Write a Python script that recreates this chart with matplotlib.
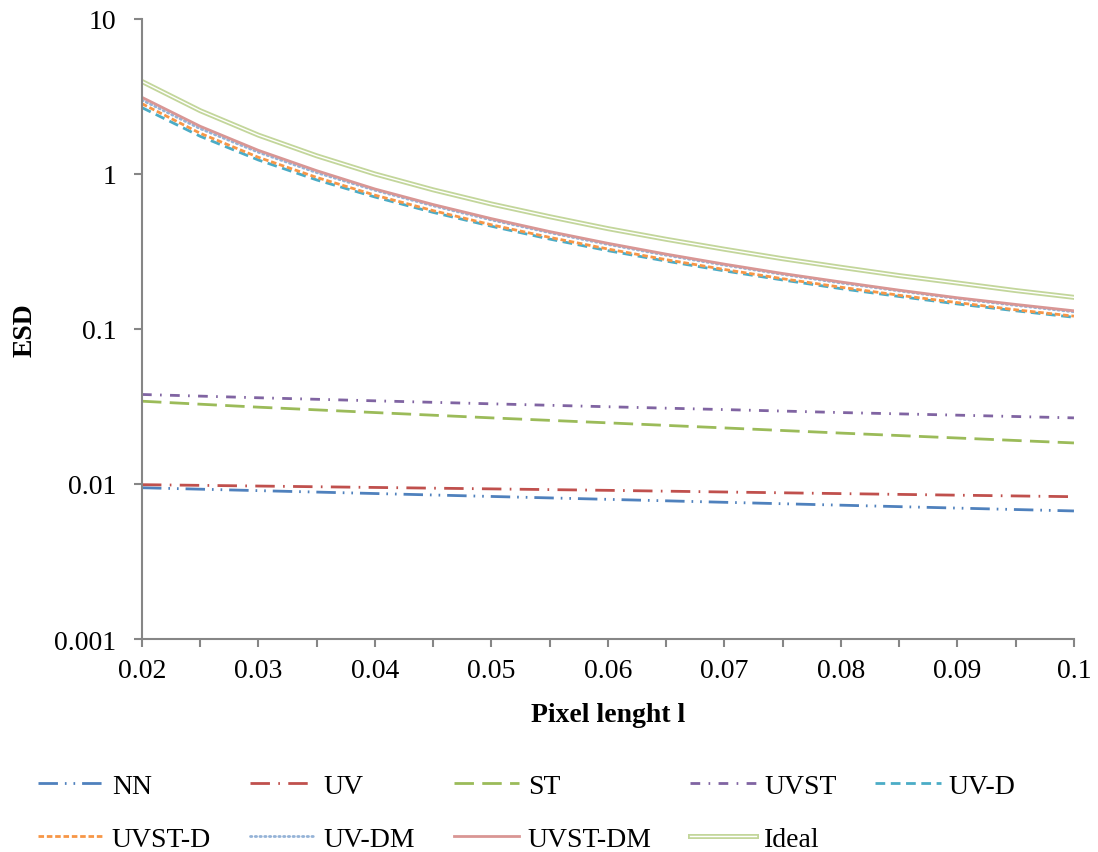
import numpy as np
import matplotlib.pyplot as plt
import matplotlib.patheffects as pe

# Donnees
x_haut = [0.02, 0.025, 0.03, 0.035, 0.04, 0.045, 0.05, 0.055, 0.06,
          0.065, 0.07, 0.075, 0.08, 0.085, 0.09, 0.095, 0.1]
ideal = [3.95, 2.56, 1.78, 1.31, 1.0, 0.79, 0.64, 0.53, 0.444,
         0.379, 0.327, 0.284, 0.25, 0.221, 0.198, 0.177, 0.16]
uvst_dm = [3.12, 2.03, 1.42, 1.05, 0.80, 0.635, 0.515, 0.425, 0.357,
           0.304, 0.262, 0.228, 0.201, 0.178, 0.159, 0.144, 0.131]
uv_dm = [3.0, 1.96, 1.38, 1.02, 0.785, 0.623, 0.505, 0.418, 0.351,
         0.299, 0.258, 0.225, 0.198, 0.176, 0.157, 0.142, 0.129]
uvst_d = [2.84, 1.83, 1.28, 0.95, 0.73, 0.58, 0.47, 0.39, 0.328,
          0.28, 0.242, 0.211, 0.186, 0.165, 0.148, 0.133, 0.121]
uv_d = [2.68, 1.75, 1.23, 0.915, 0.71, 0.565, 0.46, 0.38, 0.32,
        0.274, 0.237, 0.207, 0.182, 0.162, 0.145, 0.131, 0.119]

x_bas = [0.02, 0.03, 0.04, 0.05, 0.06, 0.07, 0.08, 0.09, 0.1]
uvst = [0.0378, 0.0360, 0.0344, 0.0329, 0.0315, 0.0302, 0.0289, 0.0278, 0.0267]
st = [0.0342, 0.0313, 0.0289, 0.0267, 0.0248, 0.0230, 0.0213, 0.0198, 0.0184]
uv = [0.0099, 0.0097, 0.0095, 0.0093, 0.0091, 0.00888, 0.00867, 0.00847, 0.00828]
nn = [0.00946, 0.00906, 0.00868, 0.00831, 0.00796, 0.00762, 0.0073, 0.00699, 0.0067]

plt.rcParams['font.family'] = ['Liberation Serif', 'DejaVu Serif']

fig = plt.figure(figsize=(10.98, 8.53), dpi=100)
ax = fig.add_axes([0.1293, 0.2497, 0.8488, 0.7269])

lw = 2.0
l_nn, = ax.plot(x_bas, nn, color='#4F81BD', lw=lw, dashes=(7, 2.5, 0.6, 2.5, 0.6, 2.5), label='NN')
l_uv, = ax.plot(x_bas, uv, color='#C0504D', lw=lw, dashes=(7, 3, 0.6, 3), label='UV')
l_st, = ax.plot(x_bas, st, color='#9BBB59', lw=lw, dashes=(7, 3), label='ST')
l_uvst, = ax.plot(x_bas, uvst, color='#8064A2', lw=lw, dashes=(3.5, 3, 0.6, 3), label='UVST')
l_uvd, = ax.plot(x_haut, uv_d, color='#4BACC6', lw=lw, dashes=(3.5, 2), label='UV-D')
l_uvstd, = ax.plot(x_haut, uvst_d, color='#F79646', lw=lw, dashes=(2, 1), label='UVST-D')
l_uvdm, = ax.plot(x_haut, uv_dm, color='#95B3D7', lw=lw, dashes=(0.5, 1.2),
                  dash_capstyle='round', label='UV-DM')
l_uvstdm, = ax.plot(x_haut, uvst_dm, color='#D99694', lw=lw, label='UVST-DM')
l_ideal, = ax.plot(x_haut, ideal, color='white', lw=1.0, label='Ideal',
                   path_effects=[pe.Stroke(linewidth=3.6, foreground='#C3D69B'), pe.Normal()])

ax.set_yscale('log')
ax.set_ylim(0.001, 10)
ax.set_xlim(0.02, 0.1)
ax.set_yticks([0.001, 0.01, 0.1, 1, 10])
ax.set_yticklabels(['0.001', '0.01', '0.1', '1', '10'])
ax.yaxis.set_minor_locator(plt.NullLocator())
ax.set_xticks([0.02, 0.03, 0.04, 0.05, 0.06, 0.07, 0.08, 0.09, 0.1])
ax.set_xticklabels(['0.02', '0.03', '0.04', '0.05', '0.06', '0.07', '0.08', '0.09', '0.1'])
ax.set_xticks(np.arange(0.025, 0.1, 0.01), minor=True)

for cote in ['top', 'right']:
    ax.spines[cote].set_visible(False)
for cote in ['left', 'bottom']:
    ax.spines[cote].set_color('#868686')
    ax.spines[cote].set_linewidth(1.5)
ax.tick_params(axis='both', which='both', direction='out', color='#868686',
               width=1.5, length=5.5, labelsize=20)
ax.tick_params(axis='x', pad=8)
ax.tick_params(axis='y', pad=13)

ax.set_xlabel('Pixel lenght l', fontsize=20, fontweight='bold', va='center')
ax.set_ylabel('ESD', fontsize=20, fontweight='bold', va='center')
ax.xaxis.set_label_coords(0.5, -0.121)
ax.yaxis.set_label_coords(-0.1255, 0.5)

# ordre pour remplir la legende ligne par ligne
poignees = [l_nn, l_uvstd, l_uv, l_uvdm, l_st, l_uvstdm, l_uvst, l_ideal, l_uvd]
fig.legend(handles=poignees, loc='center', bbox_to_anchor=(0.48, 0.046), ncol=5,
           frameon=False, fontsize=20, handlelength=2.35, handletextpad=0.3,
           columnspacing=1.4, labelspacing=1.0, borderpad=0)

fig.savefig('out.png', dpi=100)
